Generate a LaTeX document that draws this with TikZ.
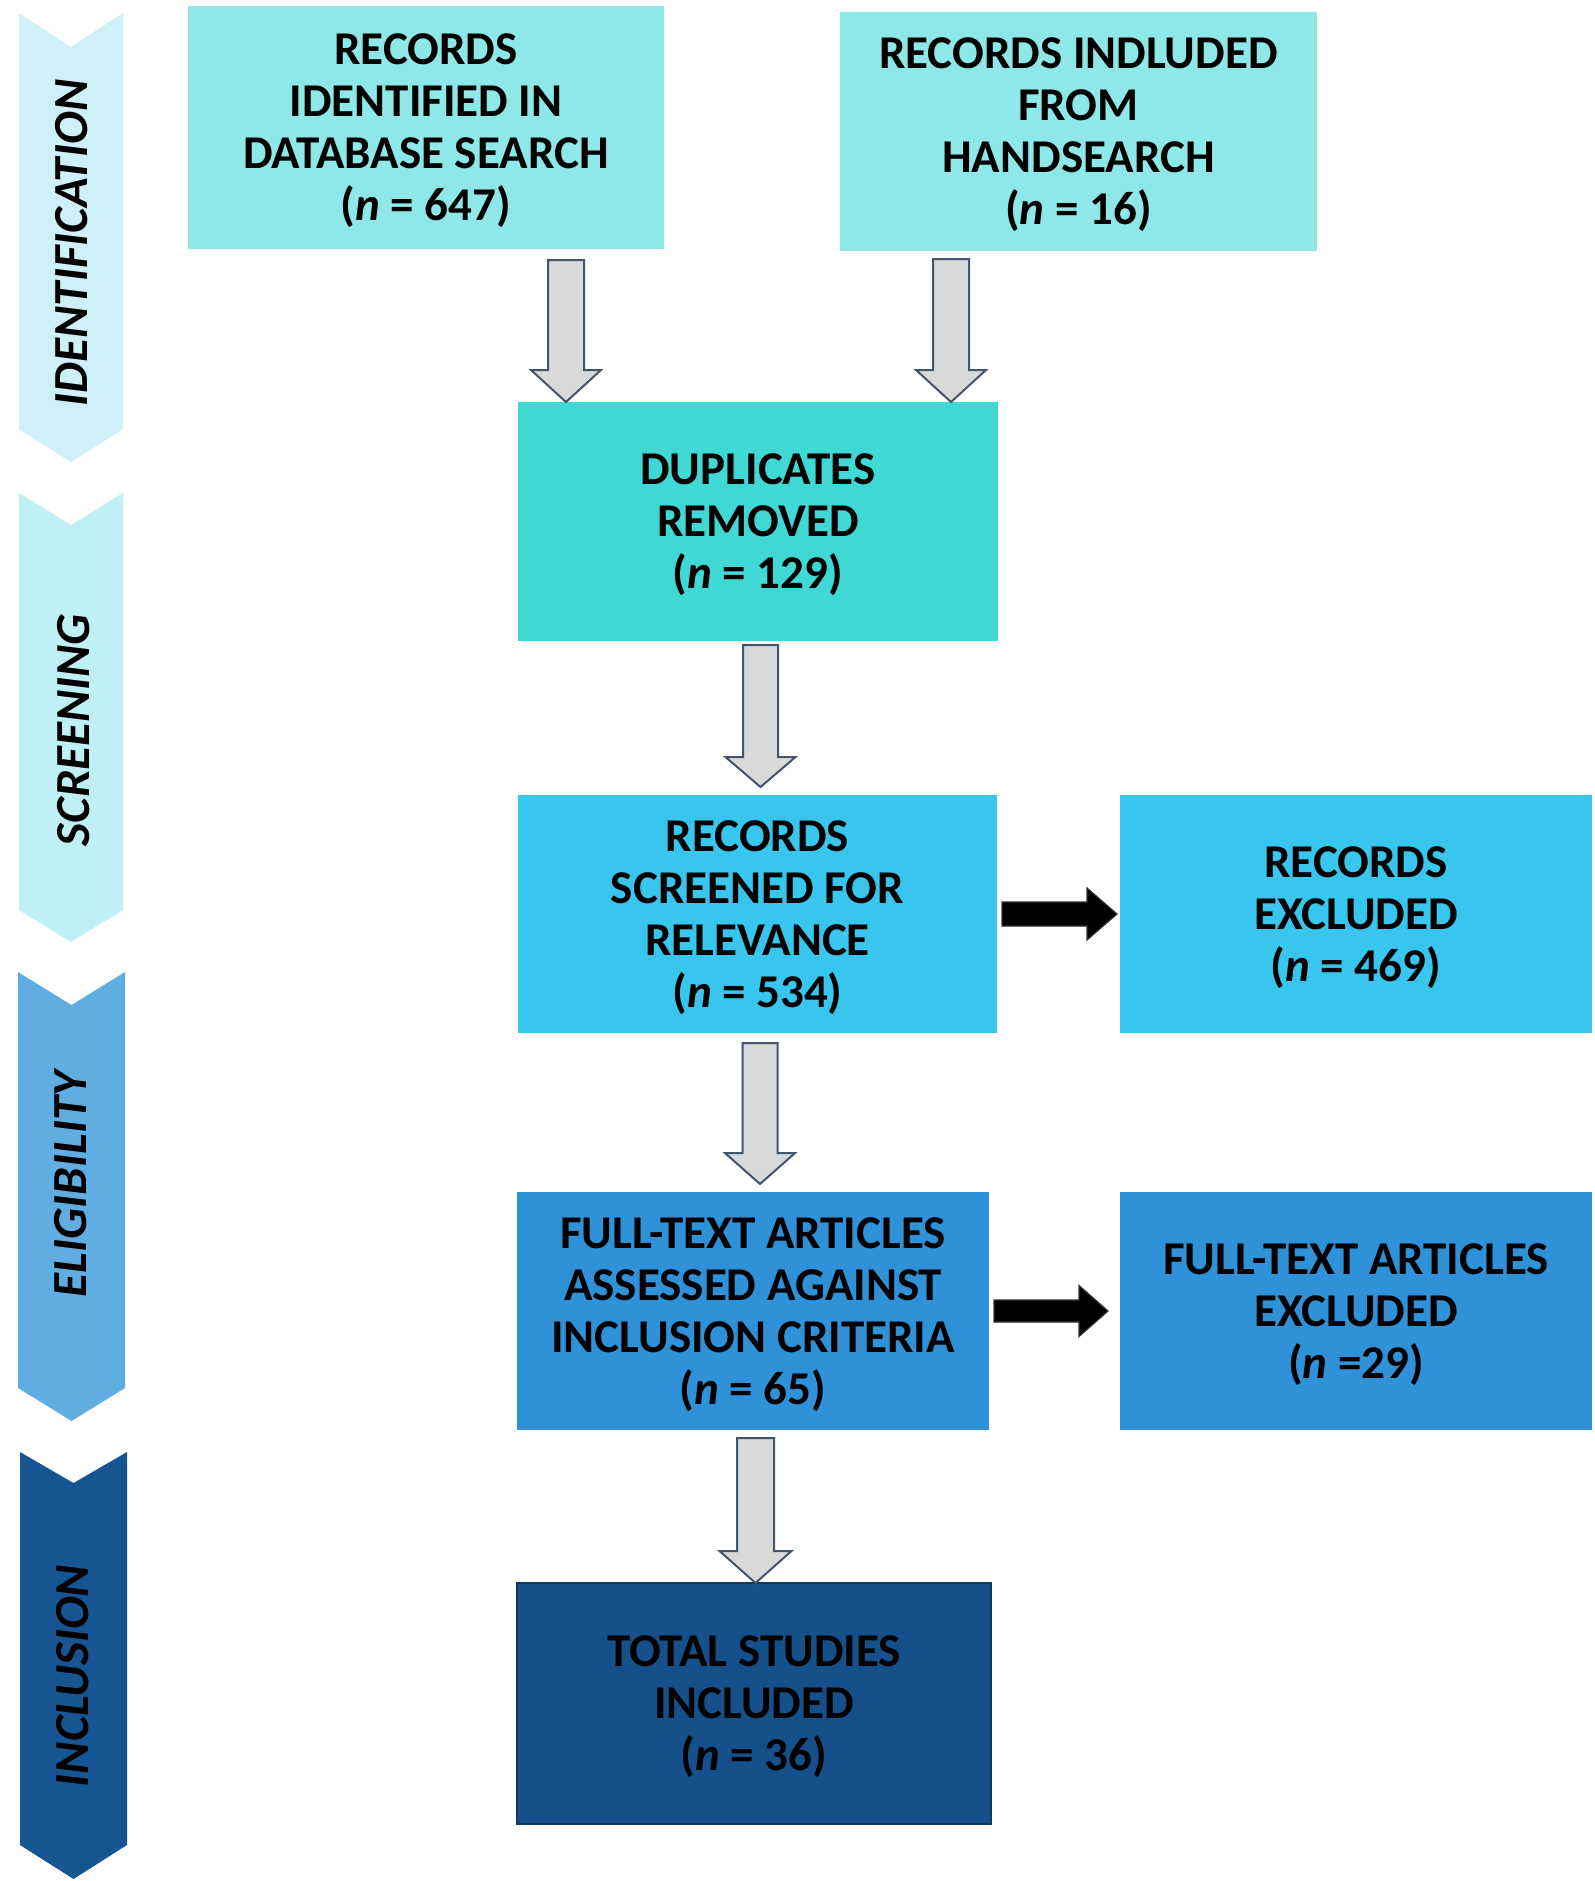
\documentclass[tikz,border=0pt]{standalone}
\usepackage{fontspec}
\setmainfont{Carlito}
\usetikzlibrary{calc}
\definecolor{cident}{HTML}{CFEFF9}
\definecolor{cscreen}{HTML}{BEF0F6}
\definecolor{celig}{HTML}{60ADE2}
\definecolor{cincl}{HTML}{175592}
\definecolor{cbox1}{HTML}{8EE8E8}
\definecolor{cdup}{HTML}{40D8D5}
\definecolor{cscr}{HTML}{38C6EE}
\definecolor{cft}{HTML}{2F91D7}
\definecolor{ctot}{HTML}{15508A}
\definecolor{ctotedge}{HTML}{0E3A62}
\definecolor{garrowfill}{HTML}{D9D9D9}
\definecolor{garrowedge}{HTML}{44546A}
\newcommand\myvarrow[5]{%
  \filldraw[grayarrow] ($(#1)+(-#3,0)$) -- ($(#2)+(-#3,-#5)$) -- ($(#2)+(-#4,-#5)$) -- (#2) -- ($(#2)+(#4,-#5)$) -- ($(#2)+(#3,-#5)$) -- ($(#1)+(#3,0)$) -- cycle;}
\newcommand\myharrow[5]{%
  \filldraw[blackarrow] ($(#1)+(0,-#3)$) -- ($(#2)+(-#5,-#3)$) -- ($(#2)+(-#5,-#4)$) -- (#2) -- ($(#2)+(-#5,#4)$) -- ($(#2)+(-#5,#3)$) -- ($(#1)+(0,#3)$) -- cycle;}
\begin{document}
\begin{tikzpicture}[x=0.5pt,y=-0.5pt,
  boxtext/.style={inner sep=0pt, outer sep=0pt, align=center, text=black, text depth=0pt,
    font=\bfseries\fontsize{23.5}{26}\selectfont},
  stagetext/.style={rotate=90, inner sep=0pt, text=black,
    font=\bfseries\itshape\fontsize{24.5}{28}\selectfont},
  grayarrow/.style={fill=garrowfill, draw=garrowedge, line width=1pt, line join=miter},
  blackarrow/.style={fill=black, draw=black!80, line width=0.6pt, line join=miter}]
\useasboundingbox (0,0) rectangle (1595,1881);
\fill[white] (0,0) rectangle (1595,1881);
% stage chevrons
\fill[cident]  (19,13) -- (71,47) -- (123,13) -- (123,429) -- (71,462) -- (19,429) -- cycle;
\fill[cscreen] (19,493) -- (71,525) -- (123,493) -- (123,910) -- (71,942) -- (19,910) -- cycle;
\fill[celig]   (18,972) -- (71.5,1005) -- (125,972) -- (125,1388) -- (71.5,1421) -- (18,1388) -- cycle;
\fill[cincl]   (20,1452) -- (73.5,1483) -- (127,1452) -- (127,1845) -- (73.5,1879) -- (20,1845) -- cycle;
\node[stagetext] (lident)  at (72,243)  {IDENTIFICATION};
\node[stagetext] (lscreen) at (74,730)  {SCREENING};
\node[stagetext] (lelig)   at (71,1184) {ELIGIBILITY};
\node[stagetext] (lincl)   at (73,1676) {INCLUSION};
% boxes
\node[boxtext, fill=cbox1, minimum width=238pt, minimum height=121.5pt] (b1) at (426,127.5)
  {RECORDS\\IDENTIFIED IN\\DATABASE SEARCH\\(\textit{n} = 647)};
\node[boxtext, fill=cbox1, minimum width=238.5pt, minimum height=119.5pt] (b2) at (1078.5,131.5)
  {RECORDS INDLUDED\\FROM\\HANDSEARCH\\(\textit{n} = 16)};
\node[boxtext, fill=cdup, minimum width=240pt, minimum height=119.5pt] (dup) at (758,521.5)
  {DUPLICATES\\REMOVED\\(\textit{n} = 129)};
\node[boxtext, fill=cscr, minimum width=239.5pt, minimum height=119pt] (scr) at (757.5,914)
  {RECORDS\\SCREENED FOR\\RELEVANCE\\(\textit{n} = 534)};
\node[boxtext, fill=cscr, minimum width=236pt, minimum height=119pt] (rex) at (1356,914)
  {RECORDS\\EXCLUDED\\(\textit{n} = 469)};
\node[boxtext, fill=cft, minimum width=236pt, minimum height=119pt] (ft) at (753,1311)
  {FULL-TEXT ARTICLES\\ASSESSED AGAINST\\INCLUSION CRITERIA\\(\textit{n} = 65)};
\node[boxtext, fill=cft, minimum width=236pt, minimum height=119pt] (fex) at (1356,1311)
  {FULL-TEXT ARTICLES\\EXCLUDED\\(\textit{n} =29)};
\node[boxtext, fill=ctot, draw=ctotedge, line width=1pt, minimum width=237pt, minimum height=120.5pt] (tot) at (754,1703.5)
  {TOTAL STUDIES\\INCLUDED\\(\textit{n} = 36)};
% gray block arrows
\path (b1.south) ++(140,11) coordinate (s1);
\path (s1 |- dup.north) coordinate (t1);
\myvarrow{s1}{t1}{18}{35}{32}
\path (b2.south) ++(-127.5,8) coordinate (s2);
\path (s2 |- dup.north) coordinate (t2);
\myvarrow{s2}{t2}{18}{35}{32}
\path (dup.south) ++(2.5,4) coordinate (s3);
\path ($(s3 |- scr.north)+(0,-8)$) coordinate (t3);
\myvarrow{s3}{t3}{17.5}{35}{30}
\path (scr.south) ++(2.5,10) coordinate (s4);
\path ($(s4 |- ft.north)+(0,-8)$) coordinate (t4);
\myvarrow{s4}{t4}{17.5}{35}{31}
\path (ft.south) ++(2.5,8) coordinate (s5);
\path (s5 |- tot.north) coordinate (t5);
\myvarrow{s5}{t5}{18.5}{36}{32}
% black arrows
\path (scr.east) ++(5,0) coordinate (h1s);
\path ($(h1s -| rex.west)+(-3,0)$) coordinate (h1t);
\myharrow{h1s}{h1t}{12}{26}{30}
\path (ft.east) ++(5,0) coordinate (h2s);
\path ($(h2s -| fex.west)+(-12,0)$) coordinate (h2t);
\myharrow{h2s}{h2t}{11}{25.5}{29}
\end{tikzpicture}
\end{document}
